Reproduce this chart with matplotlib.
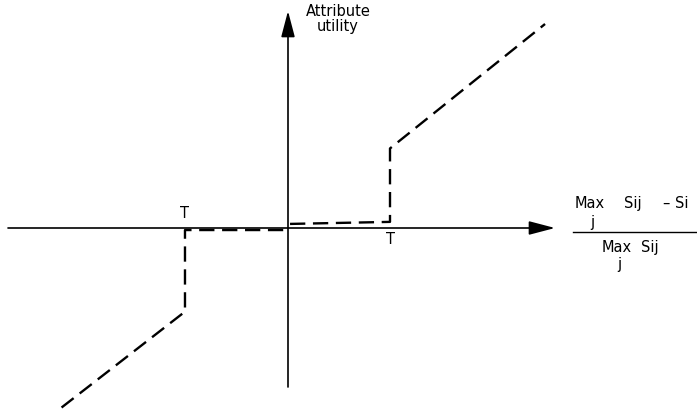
import matplotlib.pyplot as plt
import numpy as np

plt.rcParams['lines.scale_dashes'] = False

# Utility curve, x in units of the threshold T, y in the same units
left_x = [-2.22, -1.01, -1.01, 0.0]
left_y = [-1.76, -0.82, -0.02, -0.02]
right_x = [0.02, 1.0, 1.0, 2.52]
right_y = [0.04, 0.06, 0.78, 2.0]
thresholds = [-1.0, 1.0]
threshold_labels = ['T', 'T']

W, H = 697, 413
ox, oy, unit = 288, 228, 102.0  # origin in pixels and pixels per unit


def px(x, y):
    # pixel position -> data coordinates
    return (x - ox) / unit, (oy - y) / unit


fig = plt.figure(figsize=(W / 100, H / 100), dpi=100)
ax = fig.add_axes([0, 0, 1, 1])
ax.set_xlim(-ox / unit, (W - ox) / unit)
ax.set_ylim(-(H - oy) / unit, oy / unit)
ax.axis('off')

arrow = dict(arrowstyle='-|>,head_length=1.6,head_width=0.42', color='black',
             lw=1.2, shrinkA=0, shrinkB=0, mutation_scale=10)
# axes with arrow heads
ax.annotate('', xy=px(555, oy), xytext=px(8, oy), arrowprops=arrow)
ax.annotate('', xy=px(ox, 11), xytext=px(ox, 387), arrowprops=arrow)

# dashed utility curve
dash = dict(color='black', lw=1.7, dashes=(11, 5.5), solid_joinstyle='round',
            dash_joinstyle='round', dash_capstyle='butt')
ax.plot(left_x, left_y, **dash)
ax.plot(right_x, right_y, **dash)

# threshold labels
fs = 10.5
ax.text(thresholds[0] - 0.01, px(0, 214)[1], threshold_labels[0], ha='center', va='center', fontsize=fs)
ax.text(thresholds[1], px(0, 240)[1], threshold_labels[1], ha='center', va='center', fontsize=fs)

# y axis label
ax.text(*px(338, 19), 'Attribute\nutility', ha='center', va='center', fontsize=fs,
        linespacing=0.95)

# x axis label (fraction)
ax.text(*px(575, 204), 'Max', ha='left', va='center', fontsize=fs)
ax.text(*px(592, 223), 'j', ha='center', va='center', fontsize=fs)
ax.text(*px(624, 204), 'Sij', ha='left', va='center', fontsize=fs)
ax.text(*px(663, 204), '\u2013 Si', ha='left', va='center', fontsize=fs)
ax.plot(*zip(px(573, 232), px(697, 232)), color='black', lw=1.0)
ax.text(*px(602, 248), 'Max', ha='left', va='center', fontsize=fs)
ax.text(*px(619, 265), 'j', ha='center', va='center', fontsize=fs)
ax.text(*px(641, 248), 'Sij', ha='left', va='center', fontsize=fs)

fig.savefig('out.png', dpi=100)
